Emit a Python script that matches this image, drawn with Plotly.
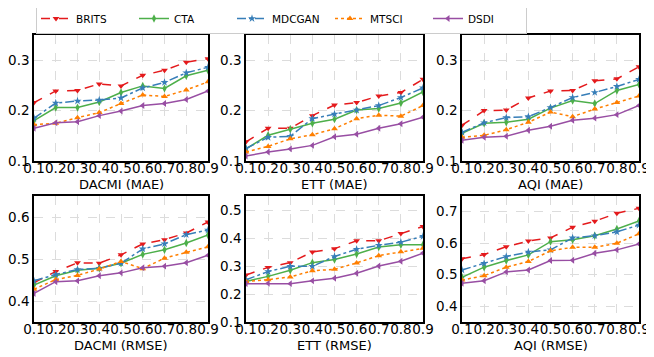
import plotly.graph_objects as go
from plotly.subplots import make_subplots

# missing rates on the x axis
rates = [0.1, 0.2, 0.3, 0.4, 0.5, 0.6, 0.7, 0.8, 0.9]
rate_labels = ["0.1", "0.2", "0.3", "0.4", "0.5", "0.6", "0.7", "0.8", "0.9"]

methods = ["BRITS", "CTA", "MDCGAN", "MTSCI", "DSDI"]

# DACMI (MAE)
dacmi_mae_brits = [0.216, 0.239, 0.240, 0.253, 0.249, 0.270, 0.280, 0.296, 0.303]
dacmi_mae_cta = [0.180, 0.206, 0.206, 0.217, 0.236, 0.249, 0.244, 0.269, 0.280]
dacmi_mae_mdcgan = [0.185, 0.215, 0.219, 0.221, 0.225, 0.245, 0.256, 0.275, 0.286]
dacmi_mae_mtsci = [0.172, 0.175, 0.186, 0.196, 0.214, 0.231, 0.228, 0.241, 0.257]
dacmi_mae_dsdi = [0.165, 0.176, 0.178, 0.190, 0.199, 0.210, 0.214, 0.222, 0.239]

# ETT (MAE)
ett_mae_brits = [0.138, 0.165, 0.165, 0.190, 0.211, 0.216, 0.229, 0.236, 0.262]
ett_mae_cta = [0.124, 0.151, 0.163, 0.175, 0.183, 0.201, 0.204, 0.215, 0.237]
ett_mae_mdcgan = [0.125, 0.147, 0.149, 0.184, 0.193, 0.201, 0.210, 0.226, 0.245]
ett_mae_mtsci = [0.118, 0.129, 0.144, 0.152, 0.164, 0.184, 0.191, 0.189, 0.210]
ett_mae_dsdi = [0.110, 0.118, 0.124, 0.131, 0.148, 0.153, 0.165, 0.174, 0.187]

# AQI (MAE)
aqi_mae_brits = [0.171, 0.200, 0.201, 0.225, 0.239, 0.240, 0.259, 0.263, 0.287]
aqi_mae_cta = [0.155, 0.175, 0.177, 0.183, 0.205, 0.220, 0.214, 0.240, 0.252]
aqi_mae_mdcgan = [0.157, 0.176, 0.186, 0.188, 0.206, 0.226, 0.236, 0.248, 0.262]
aqi_mae_mtsci = [0.147, 0.151, 0.162, 0.177, 0.197, 0.188, 0.203, 0.216, 0.229]
aqi_mae_dsdi = [0.141, 0.147, 0.149, 0.161, 0.169, 0.181, 0.185, 0.192, 0.210]

# DACMI (RMSE)
dacmi_rmse_brits = [0.444, 0.470, 0.491, 0.490, 0.510, 0.536, 0.546, 0.562, 0.588]
dacmi_rmse_cta = [0.438, 0.460, 0.473, 0.478, 0.490, 0.511, 0.522, 0.538, 0.557]
dacmi_rmse_mdcgan = [0.448, 0.463, 0.475, 0.478, 0.490, 0.524, 0.536, 0.558, 0.569]
dacmi_rmse_mtsci = [0.428, 0.451, 0.461, 0.476, 0.494, 0.477, 0.502, 0.516, 0.529]
dacmi_rmse_dsdi = [0.418, 0.446, 0.448, 0.460, 0.467, 0.479, 0.483, 0.491, 0.509]

# ETT (RMSE)
ett_rmse_brits = [0.268, 0.295, 0.312, 0.350, 0.362, 0.390, 0.390, 0.416, 0.441]
ett_rmse_cta = [0.245, 0.263, 0.285, 0.312, 0.323, 0.343, 0.368, 0.376, 0.376]
ett_rmse_mdcgan = [0.251, 0.280, 0.299, 0.299, 0.334, 0.360, 0.374, 0.385, 0.406]
ett_rmse_mtsci = [0.245, 0.251, 0.261, 0.283, 0.288, 0.311, 0.337, 0.351, 0.363]
ett_rmse_dsdi = [0.237, 0.238, 0.237, 0.247, 0.256, 0.274, 0.300, 0.317, 0.346]

# AQI (RMSE)
aqi_rmse_brits = [0.551, 0.564, 0.589, 0.607, 0.617, 0.651, 0.670, 0.695, 0.711]
aqi_rmse_cta = [0.492, 0.524, 0.545, 0.563, 0.605, 0.611, 0.624, 0.645, 0.671]
aqi_rmse_mdcgan = [0.515, 0.536, 0.558, 0.572, 0.579, 0.617, 0.624, 0.636, 0.658]
aqi_rmse_mtsci = [0.483, 0.497, 0.524, 0.542, 0.576, 0.587, 0.587, 0.600, 0.630]
aqi_rmse_dsdi = [0.473, 0.481, 0.509, 0.515, 0.545, 0.546, 0.568, 0.579, 0.598]

panels = [
    ("DACMI (MAE)", [dacmi_mae_brits, dacmi_mae_cta, dacmi_mae_mdcgan, dacmi_mae_mtsci, dacmi_mae_dsdi], [0.1, 0.35], [0.1, 0.2, 0.3]),
    ("ETT (MAE)", [ett_mae_brits, ett_mae_cta, ett_mae_mdcgan, ett_mae_mtsci, ett_mae_dsdi], [0.1, 0.35], [0.1, 0.2, 0.3]),
    ("AQI (MAE)", [aqi_mae_brits, aqi_mae_cta, aqi_mae_mdcgan, aqi_mae_mtsci, aqi_mae_dsdi], [0.1, 0.35], [0.1, 0.2, 0.3]),
    ("DACMI (RMSE)", [dacmi_rmse_brits, dacmi_rmse_cta, dacmi_rmse_mdcgan, dacmi_rmse_mtsci, dacmi_rmse_dsdi], [0.35, 0.65], [0.4, 0.5, 0.6]),
    ("ETT (RMSE)", [ett_rmse_brits, ett_rmse_cta, ett_rmse_mdcgan, ett_rmse_mtsci, ett_rmse_dsdi], [0.1, 0.55], [0.1, 0.2, 0.3, 0.4, 0.5]),
    ("AQI (RMSE)", [aqi_rmse_brits, aqi_rmse_cta, aqi_rmse_mdcgan, aqi_rmse_mtsci, aqi_rmse_dsdi], [0.35, 0.75], [0.4, 0.5, 0.6, 0.7]),
]

colors = ["#e41a1c", "#4daf4a", "#377eb8", "#ff7f00", "#984ea3"]
dashes = ["dash", "solid", "dashdot", "dot", "solid"]
symbols = ["triangle-down", "diamond-tall", "star", "triangle-up", "triangle-left"]

# the page body has an 8px margin, so the figure is a bit smaller than the window
OFF = 8
W, H = 654 - OFF, 357 - OFF
fig = make_subplots(rows=2, cols=3)

# panel boxes in window pixels (left, right) and (top, bottom), and title centre y
cols_px = [(34, 208), (246, 423), (462, 639)]
rows_px = [(35, 161), (196, 322)]
title_y = [184, 345]


def fx(px):
    return (px - OFF) / W


def fy(px):
    return 1 - (px - OFF) / H


FONT = "DejaVu Sans"
FS = 13.5

for i, (title, series, yrange, yticks) in enumerate(panels):
    r, c = i // 3 + 1, i % 3 + 1
    for j, name in enumerate(methods):
        fig.add_trace(go.Scatter(
            x=rates, y=series[j], name=name, mode="lines+markers",
            line=dict(color=colors[j], dash=dashes[j], width=1.5),
            marker=dict(symbol=symbols[j], size=6, color=colors[j]),
            showlegend=(i == 0), legendgroup=name,
        ), row=r, col=c)
    xl, xr = cols_px[c - 1]
    yt, yb = rows_px[r - 1]
    fig.update_xaxes(
        domain=[fx(xl), fx(xr)], range=[0.1, 0.9],
        tickmode="array", tickvals=rates, ticktext=rate_labels, tickangle=0,
        showline=True, mirror=True, linecolor="black", linewidth=1.5,
        showgrid=True, gridcolor="#dcdcdc", griddash="dash", gridwidth=0.8,
        ticks="", ticklabelstandoff=-6,
        tickfont=dict(size=FS, color="black"), zeroline=False,
        row=r, col=c)
    fig.update_yaxes(
        domain=[fy(yb), fy(yt)], range=yrange,
        tickmode="array", tickvals=yticks, ticktext=[f"{v:.1f}" for v in yticks],
        showline=True, mirror=True, linecolor="black", linewidth=1.5,
        showgrid=True, gridcolor="#dcdcdc", griddash="dash", gridwidth=0.8,
        ticks="",
        tickfont=dict(size=FS, color="black"), zeroline=False,
        row=r, col=c)
    fig.add_annotation(
        text=title, xref="paper", yref="paper",
        x=fx((xl + xr) / 2), y=fy(title_y[r - 1]),
        xanchor="center", yanchor="middle", showarrow=False,
        font=dict(size=13, color="black"),
    )

fig.update_layout(
    width=W, height=H,
    margin=dict(l=0, r=0, t=0, b=0, autoexpand=False),
    paper_bgcolor="white", plot_bgcolor="white",
    font=dict(family=FONT, color="black"),
    legend=dict(
        orientation="h", x=28 / W, y=1 + 5 / H, xanchor="left", yanchor="top",
        font=dict(size=10.5), bgcolor="white", bordercolor="#cccccc", borderwidth=1,
        entrywidth=53, entrywidthmode="pixels", itemwidth=30,
    ),
)

fig.write_html("out.html")
